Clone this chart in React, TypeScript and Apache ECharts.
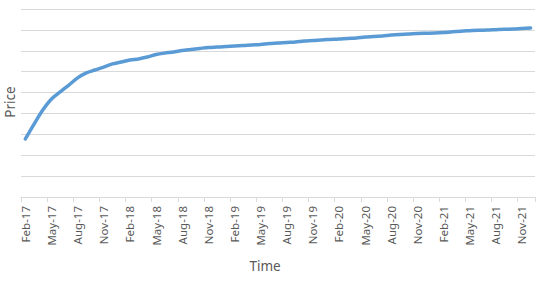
import React, { useEffect, useRef } from "react";
import * as echarts from "echarts";

const months: string[] = [
  "Feb-17", "Mar-17", "Apr-17", "May-17", "Jun-17", "Jul-17", "Aug-17", "Sep-17", "Oct-17", "Nov-17", "Dec-17",
  "Jan-18", "Feb-18", "Mar-18", "Apr-18", "May-18", "Jun-18", "Jul-18", "Aug-18", "Sep-18", "Oct-18", "Nov-18", "Dec-18",
  "Jan-19", "Feb-19", "Mar-19", "Apr-19", "May-19", "Jun-19", "Jul-19", "Aug-19", "Sep-19", "Oct-19", "Nov-19", "Dec-19",
  "Jan-20", "Feb-20", "Mar-20", "Apr-20", "May-20", "Jun-20", "Jul-20", "Aug-20", "Sep-20", "Oct-20", "Nov-20", "Dec-20",
  "Jan-21", "Feb-21", "Mar-21", "Apr-21", "May-21", "Jun-21", "Jul-21", "Aug-21", "Sep-21", "Oct-21", "Nov-21", "Dec-21",
];

const price: number[] = [
  2.78, 3.49, 4.16, 4.69, 5.03, 5.36, 5.7, 5.94, 6.08, 6.22, 6.37,
  6.46, 6.56, 6.61, 6.7, 6.82, 6.89, 6.94, 7.01, 7.06, 7.11, 7.16, 7.18,
  7.2, 7.23, 7.25, 7.28, 7.3, 7.35, 7.37, 7.4, 7.42, 7.47, 7.49, 7.52,
  7.54, 7.56, 7.59, 7.61, 7.66, 7.68, 7.71, 7.75, 7.78, 7.8, 7.83, 7.84,
  7.85, 7.87, 7.91, 7.94, 7.96, 7.98, 7.99, 8.01, 8.03, 8.04, 8.07, 8.09,
];

const xTitle = "Time";
const yTitle = "Price";

export default function App() {
  const ref = useRef<HTMLDivElement>(null);
  useEffect(() => {
    if (!ref.current) return;
    const chart = echarts.init(ref.current, undefined, { renderer: "svg" });
    chart.setOption({
      animation: false,
      backgroundColor: "#ffffff",
      textStyle: { fontFamily: "Noto Sans" },
      grid: { left: 21, right: 14, top: 9, bottom: 91 },
      xAxis: {
        type: "category",
        data: months,
        boundaryGap: true,
        axisLine: { lineStyle: { color: "#d9d9d9", width: 1 } },
        axisTick: { show: true, interval: 2, length: 5, lineStyle: { color: "#d9d9d9" } },
        axisLabel: {
          interval: 2,
          rotate: 90,
          color: "#595959",
          fontSize: 11.5,
          fontFamily: "Noto Sans",
          margin: 9,
        },
        splitLine: { show: false },
      },
      yAxis: {
        type: "value",
        min: 0,
        max: 9,
        interval: 1,
        axisLabel: { show: false },
        axisLine: { show: false },
        axisTick: { show: false },
        splitLine: { lineStyle: { color: "#d9d9d9", width: 1 } },
      },
      graphic: [
        {
          type: "text",
          x: 265,
          y: 266,
          style: {
            text: xTitle,
            fill: "#595959",
            fontSize: 13.5,
            fontFamily: "Noto Sans",
            align: "center",
            verticalAlign: "middle",
          },
        },
        {
          type: "text",
          x: 10,
          y: 102,
          rotation: Math.PI / 2,
          style: {
            text: yTitle,
            fill: "#595959",
            fontSize: 13.5,
            fontFamily: "Noto Sans",
            align: "center",
            verticalAlign: "middle",
          },
        },
      ],
      series: [
        {
          type: "line",
          data: price,
          showSymbol: false,
          smooth: 0.3,
          lineStyle: { color: "#5b9bd5", width: 3.5, cap: "round" },
          itemStyle: { color: "#5b9bd5" },
        },
      ],
    });
    return () => chart.dispose();
  }, []);
  return (
    <div
      ref={ref}
      style={{ position: "fixed", left: 0, top: 0, width: 549, height: 288 }}
    />
  );
}
